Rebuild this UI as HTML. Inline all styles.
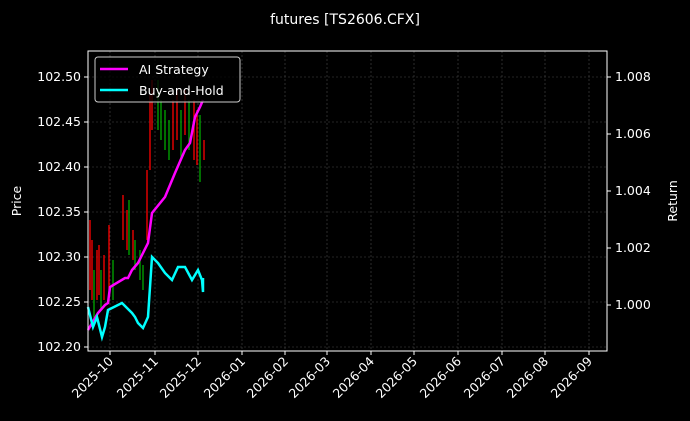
<!DOCTYPE html>
<html><head><meta charset="utf-8"><style>
body{margin:0;background:#000;}
svg{display:block;font-family:"DejaVu Sans","Liberation Sans",sans-serif;}
</style></head><body>
<svg width="690" height="421" viewBox="0 0 690 421" xmlns="http://www.w3.org/2000/svg">
<rect width="690" height="421" fill="#000"/>
<text x="345" y="24" fill="#fff" font-size="14" text-anchor="middle">futures [TS2606.CFX]</text>
<g stroke="#4a4a4a" stroke-width="0.6" stroke-dasharray="2,2">
<line x1="110" y1="51" x2="110" y2="351"/><line x1="155" y1="51" x2="155" y2="351"/><line x1="198" y1="51" x2="198" y2="351"/><line x1="242" y1="51" x2="242" y2="351"/><line x1="285" y1="51" x2="285" y2="351"/><line x1="327" y1="51" x2="327" y2="351"/><line x1="371" y1="51" x2="371" y2="351"/><line x1="414" y1="51" x2="414" y2="351"/><line x1="458" y1="51" x2="458" y2="351"/><line x1="502" y1="51" x2="502" y2="351"/><line x1="545" y1="51" x2="545" y2="351"/><line x1="589" y1="51" x2="589" y2="351"/>
<line x1="88" y1="77" x2="607" y2="77"/><line x1="88" y1="122" x2="607" y2="122"/><line x1="88" y1="167" x2="607" y2="167"/><line x1="88" y1="212" x2="607" y2="212"/><line x1="88" y1="257" x2="607" y2="257"/><line x1="88" y1="302" x2="607" y2="302"/><line x1="88" y1="347" x2="607" y2="347"/>
</g>
<g stroke-width="1.3">
<line x1="90" y1="220" x2="90" y2="290" stroke="#f00"/><line x1="92" y1="240" x2="92" y2="300" stroke="#f00"/><line x1="94" y1="270" x2="94" y2="320" stroke="#0a0"/><line x1="97" y1="250" x2="97" y2="300" stroke="#f00"/><line x1="99" y1="245" x2="99" y2="295" stroke="#f00"/><line x1="101" y1="270" x2="101" y2="310" stroke="#0a0"/><line x1="104" y1="255" x2="104" y2="300" stroke="#f00"/><line x1="109" y1="225" x2="109" y2="290" stroke="#f00"/><line x1="113" y1="260" x2="113" y2="300" stroke="#0a0"/><line x1="123" y1="195" x2="123" y2="240" stroke="#f00"/><line x1="127" y1="210" x2="127" y2="250" stroke="#f00"/><line x1="129" y1="200" x2="129" y2="255" stroke="#0a0"/><line x1="133" y1="230" x2="133" y2="260" stroke="#f00"/><line x1="135" y1="240" x2="135" y2="270" stroke="#0a0"/><line x1="140" y1="250" x2="140" y2="280" stroke="#0a0"/><line x1="143" y1="265" x2="143" y2="290" stroke="#0a0"/><line x1="147" y1="170" x2="147" y2="240" stroke="#f00"/><line x1="150" y1="95" x2="150" y2="170" stroke="#f00"/><line x1="152" y1="80" x2="152" y2="130" stroke="#f00"/><line x1="158" y1="80" x2="158" y2="130" stroke="#0a0"/><line x1="161" y1="100" x2="161" y2="140" stroke="#0a0"/><line x1="165" y1="110" x2="165" y2="150" stroke="#0a0"/><line x1="169" y1="120" x2="169" y2="160" stroke="#0a0"/><line x1="173" y1="100" x2="173" y2="150" stroke="#f00"/><line x1="177" y1="90" x2="177" y2="140" stroke="#f00"/><line x1="181" y1="110" x2="181" y2="160" stroke="#0a0"/><line x1="185" y1="90" x2="185" y2="135" stroke="#f00"/><line x1="189" y1="100" x2="189" y2="150" stroke="#0a0"/><line x1="194" y1="100" x2="194" y2="160" stroke="#f00"/><line x1="197" y1="110" x2="197" y2="165" stroke="#f00"/><line x1="200" y1="115" x2="200" y2="182" stroke="#0a0"/><line x1="204" y1="140" x2="204" y2="160" stroke="#f00"/>
</g>
<polyline fill="none" stroke="#f0f" stroke-width="2.5" points="88,330 98,313 105,305 108,303 110,287 125,278 128,278 132,270 138,263 148,243 152,213 165,197 175,173 185,150 190,143 195,117 200,107 203,100"/>
<polyline fill="none" stroke="#0ff" stroke-width="2.5" points="88,307 93,327 97,317 102,337 105,327 108,310 118,305 122,303 127,308 132,313 135,317 138,323 143,328 148,317 152,257 158,263 165,273 172,280 178,267 185,267 192,280 198,270 202,280 203,292 203,278"/>
<rect x="88" y="51" width="519" height="300" fill="none" stroke="#fff" stroke-width="1"/>
<g fill="#fff" font-size="12.5" text-anchor="end">
<text x="81" y="81">102.50</text><text x="81" y="126">102.45</text><text x="81" y="171">102.40</text><text x="81" y="216">102.35</text><text x="81" y="261">102.30</text><text x="81" y="306">102.25</text><text x="81" y="351">102.20</text>
</g>
<g stroke="#fff" stroke-width="1">
<line x1="84" y1="77" x2="88" y2="77"/><line x1="84" y1="122" x2="88" y2="122"/><line x1="84" y1="167" x2="88" y2="167"/><line x1="84" y1="212" x2="88" y2="212"/><line x1="84" y1="257" x2="88" y2="257"/><line x1="84" y1="302" x2="88" y2="302"/><line x1="84" y1="347" x2="88" y2="347"/>
<line x1="607" y1="77" x2="611" y2="77"/><line x1="607" y1="134" x2="611" y2="134"/><line x1="607" y1="191" x2="611" y2="191"/><line x1="607" y1="248" x2="611" y2="248"/><line x1="607" y1="305" x2="611" y2="305"/>
<line x1="110" y1="351" x2="110" y2="355"/><line x1="155" y1="351" x2="155" y2="355"/><line x1="198" y1="351" x2="198" y2="355"/><line x1="242" y1="351" x2="242" y2="355"/><line x1="285" y1="351" x2="285" y2="355"/><line x1="327" y1="351" x2="327" y2="355"/><line x1="371" y1="351" x2="371" y2="355"/><line x1="414" y1="351" x2="414" y2="355"/><line x1="458" y1="351" x2="458" y2="355"/><line x1="502" y1="351" x2="502" y2="355"/><line x1="545" y1="351" x2="545" y2="355"/><line x1="589" y1="351" x2="589" y2="355"/>
</g>
<g fill="#fff" font-size="12.5">
<text x="615" y="81">1.008</text><text x="615" y="138">1.006</text><text x="615" y="195">1.004</text><text x="615" y="252">1.002</text><text x="615" y="309">1.000</text>
</g>
<g fill="#fff" font-size="12.5" text-anchor="end">
<text transform="translate(114,362) rotate(-45)">2025-10</text>
<text transform="translate(159,362) rotate(-45)">2025-11</text>
<text transform="translate(202,362) rotate(-45)">2025-12</text>
<text transform="translate(246,362) rotate(-45)">2026-01</text>
<text transform="translate(289,362) rotate(-45)">2026-02</text>
<text transform="translate(331,362) rotate(-45)">2026-03</text>
<text transform="translate(375,362) rotate(-45)">2026-04</text>
<text transform="translate(418,362) rotate(-45)">2026-05</text>
<text transform="translate(462,362) rotate(-45)">2026-06</text>
<text transform="translate(506,362) rotate(-45)">2026-07</text>
<text transform="translate(549,362) rotate(-45)">2026-08</text>
<text transform="translate(593,362) rotate(-45)">2026-09</text>
</g>
<text transform="translate(21,201) rotate(-90)" fill="#fff" font-size="12.5" text-anchor="middle">Price</text>
<text transform="translate(677,201) rotate(-90)" fill="#fff" font-size="12.5" text-anchor="middle">Return</text>
<rect x="95" y="57" width="145" height="45" rx="3" fill="#000" fill-opacity="0.8" stroke="#ccc" stroke-width="1"/>
<line x1="100" y1="69" x2="128" y2="69" stroke="#f0f" stroke-width="2.5"/>
<line x1="100" y1="90" x2="128" y2="90" stroke="#0ff" stroke-width="2.5"/>
<g fill="#fff" font-size="12.5"><text x="139" y="74">AI Strategy</text><text x="139" y="95">Buy-and-Hold</text></g>
</svg>
</body></html>
